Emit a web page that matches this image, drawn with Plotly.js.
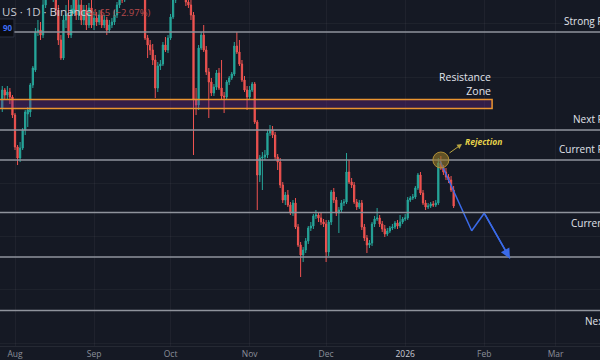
<!DOCTYPE html>
<html>
<head>
<meta charset="utf-8">
<script src="https://cdn.plot.ly/plotly-3.0.1.min.js"></script>
<style>
html,body{margin:0;padding:0;background:#151924;}
#chart{width:600px;height:360px;overflow:hidden;}
</style>
</head>
<body>
<div id="chart"></div>
<script>
// ---- data (daily candles, first bar 2025-07-27) ----
const firstDay = '2025-07-27';
const open = [
159,163.5,162.25,163,161.75,
157.25,149.25,146.5,149,153.5,157.5,158,164.75,168.5,178,
178.5,177.25,184.75,188.5,191,187.25,189.75,183.5,176,171.5,
181,182.25,177.25,183.5,187.25,182.25,184.75,181,183.5,179.75,
184,179.75,181.5,180.5,182.25,179.75,181,178.5,179.75,180.5,
182.25,184.75,187.25,186,189.75,192.25,193.5,191,193.5,192.25,
189.75,188.5,176.5,174.75,173.5,171,164,169.5,170,174.75,
173.5,176.5,181.75,186,188.5,187.25,188.5,186.5,185.5,184.75,
182.25,161,159.75,174,177.25,173.5,168,165.5,162.75,164.25,
167.75,164,162,161.75,165.5,166.5,167.5,174.5,173,170,
166,163.5,161.75,163.5,165,155.5,142.25,146.5,146.75,147.25,
152.75,153.5,152.25,146.75,145.5,139.75,136,137.25,134.75,132.75,
135.25,129.25,124.75,122.25,123.5,125.75,129,129.5,132,132.25,
131.5,130.5,130,123,130.5,138,136,132.75,133.5,135.25,
135.5,143,140.5,139.75,135.5,134.25,135.25,129.25,126.5,124.75,
125.25,130,131.25,131.5,130,128.75,127.5,128.25,129,129.25,
130.25,129.5,130.5,131.25,131.5,136,136.5,136.75,139,142.25,
137.75,135.25,134.25,134.5,135,134.75,135.25,145.25,144,143,
141.75,141,138.5];
const high = [
164.5,164,164.5,164,162.25,
157.75,149.75,150.5,154,158.5,159.25,165.25,169.5,179,181,
180.5,187.25,189.75,192.25,193,191.5,192.25,184.75,177.25,182.25,
184.75,186,184.75,188.5,188.5,186,186,184.75,184.75,185.25,
186,183,183,183.5,183.5,182.25,181.75,181,181.5,183.5,
185.5,188.5,188.5,191,193.5,194.75,194.75,194.75,194.75,193.5,
191,189.75,177.25,176,175,172.25,170.5,171,175.5,176.75,
177.25,182.5,186.75,189,189.75,189.5,189.5,187.25,186.5,186,
183,164,174.75,178,179.75,174.5,169,166.5,165,168.5,
169,171,163,166,167,168,175.5,178,176,171,
167,164.5,164.5,165.5,165.5,156,147.25,148,148.5,153.5,
154.75,154.5,153,147.5,146.5,140.5,138,138.5,135.5,136,
136.5,130,125.5,124.25,126.5,129.5,130.5,132.5,133.5,133,
133,131.25,131,131,138.5,139,136.75,134.25,136,136.25,
147.75,146,141.5,140.5,136.25,136,136,130,127.25,126,
130.5,132,134,132.25,130.75,129.75,129,129.5,130,130.75,
131,132.25,131.75,132.5,136.75,137,137.5,139.5,142.75,143,
138.5,136,135.25,135.5,135.75,136,146.5,147,144.75,144,
142.5,142,139.5];
const low = [
158,161,161,160,156.5,
148.5,144.75,145.5,148.5,152.25,154.25,156.75,164,168,177,
176,176.5,184,187.25,186,185.5,182.25,174.75,171,171,
179,176.5,176.5,182.5,181,181,179.75,179.75,178.5,179,
179,178.5,179.5,179.75,179,179,177.25,177.75,179,179.75,
181.5,184,185.25,185.5,188.5,191,189.75,189.75,191,188.5,
187.25,176,171.5,172.25,169.75,161.5,163,168.5,169.5,173,
172.75,176,181.25,185.25,186.5,186,186,184.5,184,181,
147.25,157.25,158.5,173.5,173,167.25,156.5,162,162,163.5,
163.5,161,157.75,161.25,164.75,166,167,172.5,169.5,165.5,
163,158.5,161,163,155,133.5,140.5,138.5,146,146.5,
152,151.5,146,143.5,139,135.25,134.75,134.25,132.25,132,
128.75,124.25,116.75,120.5,122.75,125,128.25,128.75,131.25,130.5,
129.75,129.25,120.5,122,129.75,135.25,132,127.75,132.75,134.5,
135,140,139,135,133.5,133.75,128.5,125.75,122.75,124,
124.5,129.25,130.75,129.25,128,126.75,127,127.75,128.5,128.75,
128.75,129,130,130.75,131,135.5,136,136.25,138.5,137.25,
134.75,133.5,133.75,134,134.25,134.25,134.75,143.5,142.25,141,
140.25,138,134];
const close = [
163.5,162.25,163,161.75,157.25,
149.25,146.5,149,153.5,158,158.5,164.75,169,178,178.5,
177.25,184.75,188.5,191,187.25,189.75,183.5,176,171.5,181,
182.25,177.25,183.5,187.25,182.25,184.75,181,183.5,179.75,184,
179.75,181.5,180.5,182.25,179.75,181,178.5,179.75,180.5,182.25,
184.75,187.25,186,189.75,192.25,193.5,191,193.5,192.25,189.75,
188.5,176.5,174.75,173.5,171,164,169.5,170,174.75,173.5,
176.5,181.75,186,188.5,187.25,188.5,186.5,185.5,184.75,182.25,
161,159.75,174,177.25,173.5,168,165.5,162.75,164.25,167.75,
164,162,161.75,165.5,166.5,167.5,174.5,173,170,166,
163.5,161.75,163.5,165,155.5,142.25,146.5,146.75,147.25,152.75,
153.5,152.25,146.75,145.5,139.75,136,137.25,134.75,132.75,135.25,
129.25,124.75,122.25,123.5,125.75,129,129.5,132,132.25,131.5,
130.5,130,123,130.5,138,136,132.75,133.5,135.25,135.5,
143,140.5,139.75,135.5,134.25,135.25,129.25,126.5,124.75,125.25,
130,131.25,131.5,130,128.75,127.5,128.25,129,129.25,130.25,
129.5,130.5,131.25,131.5,136,136.5,136.75,139,142.25,137.75,
135.25,134.25,134.5,135,134.75,135.25,145.25,144,143,141.75,
141,138.5,134.5];

// horizontal levels
const levelPrices = [178, 153.5, 146, 132.9, 121.75, 108.4];
const levelLabels = ['Strong Resistance', 'Next Resistance', 'Current Resistance', 'Current Support', '', 'Next Support'];
const levelLabelBelow = [false, false, false, true, false, true];

// resistance zone
const zoneTop = 161.15, zoneBottom = 158.85, zoneEnd = '2026-02-04 02:00';
const zoneLabel = 'Resistance<br>Zone';

// projection path
const projDates = ['2026-01-14 16:00', '2026-01-27 02:00', '2026-02-01 00:00', '2026-02-11 02:00'];
const projPrices = [145.75, 128.3, 132.7, 121.4];

// rejection marker
const rejDate = '2026-01-15 00:00', rejPrice = 146;
const rejArrowTip = ['2026-01-23 07:00', 150];
const rejTextPos = ['2026-01-23 17:00', 150.75];

// month ticks
const monthTicks = ['2025-08-01','2025-09-01','2025-10-01','2025-11-01','2025-12-01','2026-01-01','2026-02-01','2026-03-01'];
const monthLabels = ['Aug','Sep','Oct','Nov','Dec','<span style="color:#c9ccd4">2026</span>','Feb','Mar'];

const headerSymbol = 'US · 1D · Binance';
const headerChange = '−4.65 (−2.97%)';

// ---- build ----
const start = Date.parse(firstDay + 'T00:00:00Z');
const dates = close.map((_, i) => new Date(start + i * 86400000).toISOString().slice(0, 10));

const UP = '#26a69a', DOWN = '#ef5350', BG = '#151924';

const candles = {
  type: 'candlestick', x: dates, open: open, high: high, low: low, close: close,
  increasing: {line: {color: UP, width: 1}, fillcolor: UP},
  decreasing: {line: {color: DOWN, width: 1}, fillcolor: DOWN},
  whiskerwidth: 0, hoverinfo: 'skip', showlegend: false
};

const proj = {
  type: 'scatter', mode: 'lines', x: projDates, y: projPrices,
  line: {color: '#3a6ae8', width: 1.5}, hoverinfo: 'skip', showlegend: false
};

const shapes = [];
const annotations = [];

// zone
shapes.push({type: 'rect', xref: 'x', yref: 'y', x0: '2025-07-20', x1: zoneEnd, y0: zoneBottom, y1: zoneTop,
  fillcolor: 'rgba(110,40,140,0.35)', line: {color: '#eb9530', width: 1.5}, layer: 'above'});

levelPrices.forEach((p, i) => {
  shapes.push({type: 'line', xref: 'paper', yref: 'y', x0: 0, x1: 1, y0: p, y1: p,
    line: {color: '#8f939c', width: 1.5}, layer: 'above'});
  if (levelLabels[i]) {
    annotations.push({xref: 'paper', yref: 'y', x: 649 / 600, y: p, xanchor: 'right',
      yanchor: levelLabelBelow[i] ? 'top' : 'bottom', yshift: levelLabelBelow[i] ? -2 : 2,
      text: levelLabels[i], showarrow: false, font: {family: 'Open Sans', size: 10, color: '#e0e3eb'}});
  }
});

annotations.push({xref: 'x', yref: 'y', x: zoneEnd, y: zoneTop, xanchor: 'right', yanchor: 'bottom', yshift: 0,
  align: 'right', borderpad: 0, text: zoneLabel, showarrow: false,
  font: {family: 'Open Sans', size: 10.5, color: '#e0e3eb'}});

// rejection circle
shapes.push({type: 'circle', xref: 'x', yref: 'y', xsizemode: 'pixel', ysizemode: 'pixel',
  xanchor: rejDate, yanchor: rejPrice, x0: -8, x1: 8, y0: -8, y1: 8,
  fillcolor: 'rgba(150,120,40,0.6)', line: {color: 'rgba(185,150,55,0.9)', width: 1}, layer: 'above'});
annotations.push({xref: 'x', yref: 'y', x: rejArrowTip[0], y: rejArrowTip[1], ax: -14, ay: 10,
  axref: 'pixel', ayref: 'pixel', text: '', showarrow: true, arrowhead: 2, arrowsize: 1, arrowwidth: 1,
  arrowcolor: '#b8a540'});
annotations.push({xref: 'x', yref: 'y', x: rejTextPos[0], y: rejTextPos[1], xanchor: 'left', yanchor: 'middle',
  text: '<b><i>Rejection</i></b>', showarrow: false, font: {family: 'Open Sans', size: 8.5, color: '#e6d24a'}});

// projection arrow head
annotations.push({xref: 'x', yref: 'y', x: projDates[3], y: projPrices[3], axref: 'x', ayref: 'y',
  ax: projDates[2], ay: projPrices[2], text: '', showarrow: true, arrowhead: 2, arrowsize: 1.3, arrowwidth: 1.5,
  arrowcolor: '#3a6ae8', standoff: 0});

// header
annotations.push({xref: 'paper', yref: 'paper', x: 0, y: 1, xanchor: 'left', yanchor: 'top', yshift: -2,
  text: headerSymbol, showarrow: false, font: {family: 'Open Sans', size: 11.5, color: '#c9ccd4'}});
annotations.push({xref: 'paper', yref: 'paper', x: 84 / 600, y: 1, xanchor: 'left', yanchor: 'top', yshift: -4,
  text: headerChange, showarrow: false, font: {family: 'Open Sans', size: 9.5, color: '#b54a4c'}});
shapes.push({type: 'circle', xref: 'paper', yref: 'paper', xsizemode: 'pixel', ysizemode: 'pixel',
  xanchor: 73 / 600, yanchor: 1 - 11 / 346, x0: -2.5, x1: 2.5, y0: -2.5, y1: 2.5,
  fillcolor: UP, line: {width: 0}, layer: 'above'});
shapes.push({type: 'rect', xref: 'paper', yref: 'paper', x0: -0.02, x1: 14 / 600, y0: 1 - 37 / 346, y1: 1 - 19 / 346,
  fillcolor: '#0b0d13', line: {color: '#2b3040', width: 1}, layer: 'above'});
annotations.push({xref: 'paper', yref: 'paper', x: 1 / 600, y: 1 - 19 / 346, xanchor: 'left', yanchor: 'top', yshift: -1,
  text: '<b>90</b>', showarrow: false, font: {family: 'Open Sans', size: 8, color: '#3d6ef2'}});

const layout = {
  width: 600, height: 360,
  margin: {l: 0, r: 0, t: 0, b: 14, pad: 0},
  paper_bgcolor: BG, plot_bgcolor: BG,
  showlegend: false, hovermode: false, dragmode: false,
  xaxis: {
    type: 'date', range: ['2025-07-26 02:49', '2026-03-18 09:36'],
    rangeslider: {visible: false},
    tickvals: monthTicks, ticktext: monthLabels, ticks: '',
    tickfont: {family: 'Open Sans', size: 8.5, color: '#8b8f9a'},
    showgrid: true, gridcolor: 'rgba(255,255,255,0.045)', gridwidth: 1,
    showline: true, linecolor: 'rgba(255,255,255,0.07)', linewidth: 1,
    zeroline: false, fixedrange: true
  },
  yaxis: {
    range: [99.5, 186], showticklabels: false, ticks: '',
    showgrid: true, tick0: 100.25, dtick: 13.3, gridcolor: 'rgba(255,255,255,0.04)',
    zeroline: false, fixedrange: true
  },
  shapes: shapes,
  annotations: annotations
};

Plotly.newPlot('chart', [candles, proj], layout, {staticPlot: true, displayModeBar: false});
</script>
</body>
</html>
